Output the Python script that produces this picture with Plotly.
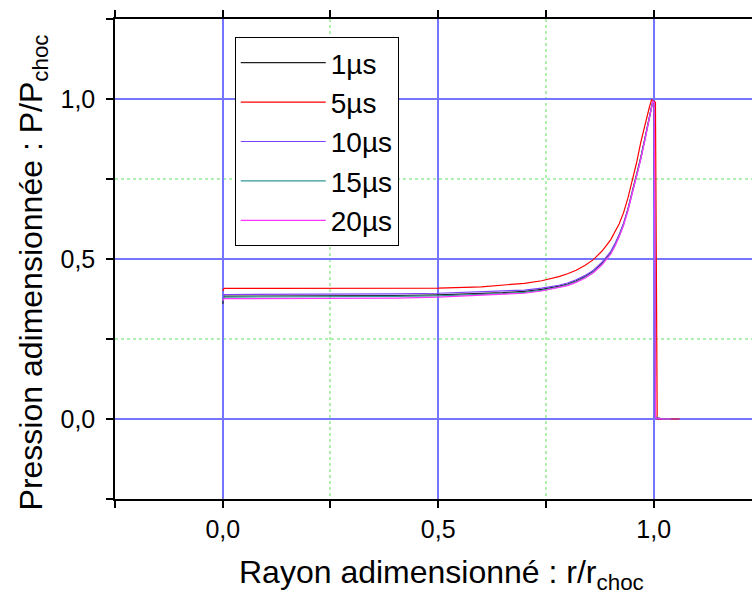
import plotly.graph_objects as go

# ---- data ----
x_common = [0.0, 0.003, 0.01, 0.1, 0.2, 0.3, 0.4, 0.5, 0.6, 0.65, 0.7, 0.74, 0.78, 0.8, 0.82,
            0.84, 0.86, 0.88, 0.9, 0.91, 0.92, 0.93, 0.94, 0.95, 0.96, 0.97, 0.98, 0.99,
            0.995, 0.998, 1.001, 1.004, 1.02, 1.04]
y_1us = [0.36, 0.384, 0.384, 0.384, 0.384, 0.385, 0.386, 0.388, 0.392, 0.395, 0.399, 0.405,
         0.415, 0.422, 0.432, 0.445, 0.462, 0.487, 0.52, 0.545, 0.575, 0.61, 0.655, 0.71,
         0.76, 0.818, 0.88, 0.945, 0.975, 0.995, 0.99, 0.005, 0.0, 0.0]
y_10us = [0.372, 0.389, 0.389, 0.389, 0.389, 0.39, 0.391, 0.393, 0.397, 0.4, 0.403, 0.409,
          0.418, 0.425, 0.435, 0.448, 0.465, 0.49, 0.523, 0.548, 0.577, 0.612, 0.656, 0.71,
          0.758, 0.815, 0.877, 0.943, 0.974, 0.994, 0.985, 0.004, 0.0, 0.0]
y_15us = [0.368, 0.381, 0.381, 0.381, 0.381, 0.382, 0.383, 0.385, 0.389, 0.392, 0.396, 0.402,
          0.412, 0.419, 0.429, 0.442, 0.459, 0.484, 0.517, 0.542, 0.572, 0.607, 0.652, 0.706,
          0.756, 0.814, 0.876, 0.942, 0.973, 0.994, 0.988, 0.006, 0.0, 0.0]
y_20us = [0.37, 0.376, 0.376, 0.376, 0.376, 0.377, 0.378, 0.381, 0.386, 0.389, 0.393, 0.4,
          0.41, 0.417, 0.427, 0.44, 0.457, 0.482, 0.515, 0.54, 0.57, 0.605, 0.65, 0.704,
          0.754, 0.812, 0.874, 0.94, 0.972, 0.993, 0.99, 0.004, 0.0, 0.0]

x_5us = [0.0, 0.003, 0.1, 0.3, 0.5, 0.6, 0.65, 0.7, 0.74, 0.78, 0.8, 0.82, 0.84, 0.86, 0.88,
         0.9, 0.91, 0.92, 0.93, 0.94, 0.95, 0.96, 0.97, 0.98, 0.99, 0.995, 1.004, 1.008, 1.06]
y_5us = [0.40, 0.408, 0.408, 0.408, 0.409, 0.413, 0.418, 0.424, 0.432, 0.445, 0.454, 0.465,
         0.48, 0.498, 0.525, 0.56, 0.585, 0.61, 0.645, 0.69, 0.745, 0.80, 0.865, 0.925,
         0.975, 0.998, 0.99, 0.0, 0.0]

names = ["1µs", "5µs", "10µs", "15µs", "20µs"]
colors = ["#202020", "#ff0000", "#8040ff", "#339999", "#ff33ff"]
series_x = [x_common, x_5us, x_common, x_common, x_common]
series_y = [y_1us, y_5us, y_10us, y_15us, y_20us]

x_range = [-0.25, 1.228]
y_range = [-0.25, 1.25]
major_step = 0.5
minor_step = 0.25

FONT = "Liberation Sans, Arial, sans-serif"

fig = go.Figure()
for n, c, xs, ys in zip(names, colors, series_x, series_y):
    fig.add_trace(go.Scatter(x=xs, y=ys, mode="lines", name=n,
                             line=dict(color=c, width=1.2)))

major_grid = "#7575ff"
minor_grid = "rgb(175,240,175)"

common = dict(
    tick0=0, dtick=major_step, tickformat=".1f",
    ticks="outside", ticklen=7, tickwidth=1.5, tickcolor="black",
    showline=True, linecolor="black", linewidth=1.5,
    showgrid=True, gridcolor=major_grid, gridwidth=2, zeroline=False,
    minor=dict(tick0=0, dtick=minor_step, ticks="outside", ticklen=7, tickwidth=1.5,
               tickcolor="black", showgrid=True, gridcolor=minor_grid,
               griddash="dot", gridwidth=1.5),
    tickfont=dict(family=FONT, size=25, color="black"),
)
fig.update_xaxes(range=x_range, mirror="ticks", **common)
fig.update_yaxes(range=y_range, mirror=False, ticklabelstandoff=6, **common)

fig.update_layout(
    template="none",
    width=752, height=601,
    margin=dict(l=115, r=0, t=19, b=102),
    paper_bgcolor="white", plot_bgcolor="white",
    separators=", ",
    font=dict(family=FONT, color="black"),
    showlegend=True,
    legend=dict(x=0.188, y=0.9625, xanchor="left", yanchor="top",
                bordercolor="black", borderwidth=1, bgcolor="white",
                font=dict(family=FONT, size=28, color="black"),
                itemwidth=85, tracegroupgap=0),
    annotations=[
        dict(text="Rayon adimensionné : r/r<sub>choc</sub>", xref="paper", yref="paper",
             x=0.512, y=-0.158, xanchor="center", yanchor="middle", showarrow=False,
             font=dict(family=FONT, size=32, color="black")),
        dict(text="Pression adimensionnée : P/P<sub>choc</sub>", xref="paper", yref="paper",
             x=-0.128, y=0.473, xanchor="center", yanchor="middle", showarrow=False,
             textangle=-90, font=dict(family=FONT, size=32, color="black")),
    ],
)

fig.write_html("out.html")
